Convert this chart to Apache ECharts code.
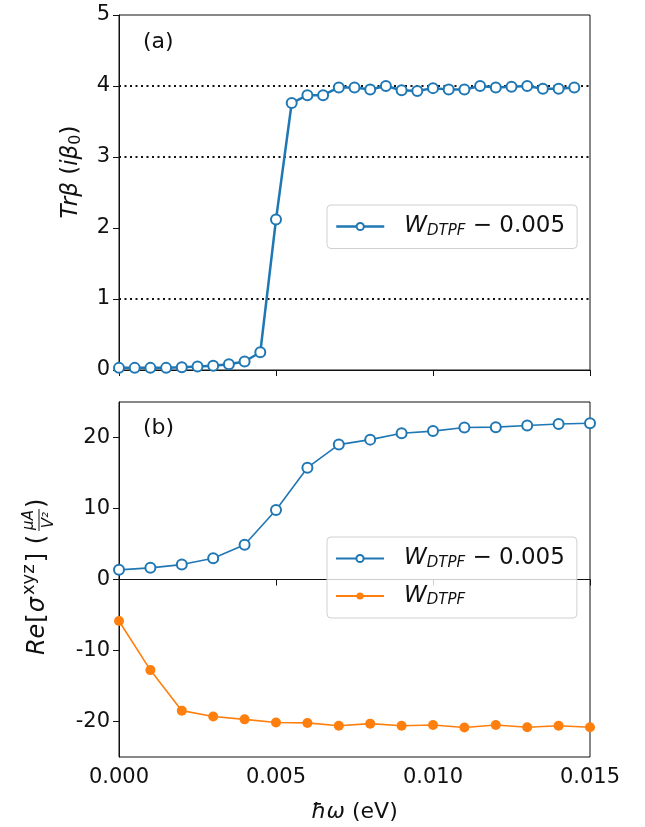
<!DOCTYPE html>
<html>
<head>
<meta charset="utf-8">
<script src="https://cdn.jsdelivr.net/npm/echarts@6/dist/echarts.min.js"></script>
<style>html,body{margin:0;padding:0;background:#fff}#c{width:645px;height:827px}</style>
</head>
<body>
<div id="c"></div>
<script>
// ---- data ----
const xTop = [0, 0.0005, 0.001, 0.0015, 0.002, 0.0025, 0.003, 0.0035, 0.004, 0.0045,
  0.005, 0.0055, 0.006, 0.0065, 0.007, 0.0075, 0.008, 0.0085, 0.009, 0.0095,
  0.010, 0.0105, 0.011, 0.0115, 0.012, 0.0125, 0.013, 0.0135, 0.014, 0.0145];
const trBeta = [0.03, 0.03, 0.03, 0.03, 0.04, 0.05, 0.06, 0.08, 0.12, 0.25,
  2.12, 3.76, 3.87, 3.87, 3.98, 3.98, 3.95, 4.00, 3.94, 3.93,
  3.97, 3.95, 3.95, 4.00, 3.98, 3.99, 4.00, 3.96, 3.96, 3.98];
const refLines = [1, 3, 4];

const xBottom = [0, 0.001, 0.002, 0.003, 0.004, 0.005, 0.006, 0.007, 0.008,
  0.009, 0.010, 0.011, 0.012, 0.013, 0.014, 0.015];
const sigmaShifted = [1.36, 1.64, 2.1, 3.0, 4.9, 9.8, 15.75, 19.0, 19.7,
  20.6, 20.9, 21.4, 21.46, 21.7, 21.9, 22.0];
const sigmaPlain = [-5.85, -12.76, -18.47, -19.3, -19.7, -20.15, -20.2, -20.6, -20.3,
  -20.6, -20.5, -20.85, -20.5, -20.8, -20.6, -20.8];

const xTicks = [0, 0.005, 0.010, 0.015];
const yTopTicks = [0, 1, 2, 3, 4, 5];
const yBottomTicks = [-20, -10, 0, 10, 20];

// ---- chart ----
const FONT = 'DejaVu Sans';
const BLUE = '#1f77b4', ORANGE = '#ff7f0e';
const chart = echarts.init(document.getElementById('c'), null, {renderer: 'canvas'});

const legendRich = {
  w: {fontFamily: FONT, fontStyle: 'italic', fontSize: 23, color: '#111'},
  s: {fontFamily: FONT, fontStyle: 'italic', fontSize: 15, color: '#111', padding: [9, 0, 0, 0]},
  n: {fontFamily: FONT, fontSize: 23, color: '#111'}
};
const legendNames = {
  topBlue: '{w|W}{s|DTPF}{n| − 0.005}',
  botBlue: '{w|W}{s|DTPF}{n| − 0.005}',
  botOrange: '{w|W}{s|DTPF}'
};

function pairs(xs, ys) { return xs.map((x, i) => [x, ys[i]]); }

const axisCommon = {
  axisLine: {show: true, lineStyle: {color: '#111', width: 1}},
  axisTick: {show: true, inside: false, length: 6, lineStyle: {color: '#111', width: 1}},
  splitLine: {show: false},
  axisLabel: {fontFamily: FONT, fontSize: 21, color: '#111', margin: 9}
};

const legendCommon = {
  orient: 'vertical',
  padding: [10, 12, 10, 8],
  itemWidth: 48, itemHeight: 9,
  borderColor: '#d0d0d0', borderWidth: 1, borderRadius: 4,
  backgroundColor: 'rgba(255,255,255,0.8)',
  formatter: n => legendNames[n],
  textStyle: {padding: [0, 0, 0, 15], rich: legendRich},
  selectedMode: false
};

const option = {
  animation: false,
  backgroundColor: '#fff',
  grid: [
    {left: 119, top: 15, width: 471, height: 355, show: true, borderColor: '#111', borderWidth: 1, backgroundColor: 'transparent'},
    {left: 119, top: 402, width: 471, height: 355, show: true, borderColor: '#111', borderWidth: 1, backgroundColor: 'transparent'}
  ],
  xAxis: [
    Object.assign({}, axisCommon, {
      type: 'value', gridIndex: 0, min: 0, max: 0.015,
      axisTick: Object.assign({}, axisCommon.axisTick, {customValues: xTicks}),
      axisLabel: {show: false}
    }),
    Object.assign({}, axisCommon, {
      type: 'value', gridIndex: 1, min: 0, max: 0.015,
      axisTick: Object.assign({}, axisCommon.axisTick, {customValues: xTicks}),
      axisLabel: Object.assign({}, axisCommon.axisLabel, {customValues: xTicks, formatter: v => v.toFixed(3), margin: 10}),
      name: '{i|ħω}{n| (eV)}',
      nameLocation: 'middle',
      nameGap: 44,
      nameTextStyle: {
        rich: {
          i: {fontFamily: FONT, fontStyle: 'italic', fontSize: 22, color: '#111'},
          n: {fontFamily: FONT, fontSize: 22, color: '#111'}
        }
      }
    })
  ],
  yAxis: [
    Object.assign({}, axisCommon, {
      type: 'value', gridIndex: 0, min: 0, max: 5,
      axisTick: Object.assign({}, axisCommon.axisTick, {customValues: yTopTicks}),
      axisLabel: Object.assign({}, axisCommon.axisLabel, {customValues: yTopTicks})
    }),
    Object.assign({}, axisCommon, {
      type: 'value', gridIndex: 1, min: -25, max: 25,
      axisTick: Object.assign({}, axisCommon.axisTick, {customValues: yBottomTicks}),
      axisLabel: Object.assign({}, axisCommon.axisLabel, {customValues: yBottomTicks})
    })
  ],
  legend: [
    Object.assign({}, legendCommon, {data: ['topBlue'], left: 327, top: 205, lineStyle: {width: 2.5}}),
    Object.assign({}, legendCommon, {data: ['botBlue', 'botOrange'], left: 327, top: 537, itemGap: 14})
  ],
  series: [
    {
      name: 'topBlue', type: 'line', xAxisIndex: 0, yAxisIndex: 0,
      data: pairs(xTop, trBeta),
      symbol: 'emptyCircle', symbolSize: 10,
      lineStyle: {color: BLUE, width: 2.5},
      itemStyle: {color: BLUE, borderColor: BLUE, borderWidth: 1.5},
      z: 3,
      markLine: {
        silent: true, symbol: ['none', 'none'], label: {show: false},
        lineStyle: {color: '#111', type: [2, 3.5], width: 2},
        data: refLines.map(v => ({yAxis: v})),
        z: 1
      }
    },
    {
      name: 'botBlue', type: 'line', xAxisIndex: 1, yAxisIndex: 1,
      data: pairs(xBottom, sigmaShifted),
      symbol: 'emptyCircle', symbolSize: 10,
      lineStyle: {color: BLUE, width: 1.6},
      itemStyle: {color: BLUE, borderColor: BLUE, borderWidth: 1.5}
    },
    {
      name: 'botOrange', type: 'line', xAxisIndex: 1, yAxisIndex: 1,
      data: pairs(xBottom, sigmaPlain),
      symbol: 'circle', symbolSize: 10,
      lineStyle: {color: ORANGE, width: 1.6},
      itemStyle: {color: ORANGE}
    }
  ],
  graphic: [
    {type: 'text', left: 143, top: 31, style: {text: '(a)', fontFamily: FONT, fontSize: 22, fill: '#111'}},
    {type: 'text', left: 143, top: 417, style: {text: '(b)', fontFamily: FONT, fontSize: 22, fill: '#111'}},
    {
      type: 'group', x: 71, y: 172, rotation: Math.PI / 2,
      children: [{
        type: 'text', x: 0, y: 0,
        style: {
          text: '{i|Trβ}{n| (}{i|iβ}{sub|0}{n|)}',
          align: 'center', verticalAlign: 'middle',
          rich: {
            i: {fontFamily: FONT, fontStyle: 'italic', fontSize: 23, fill: '#111'},
            n: {fontFamily: FONT, fontSize: 23, fill: '#111'},
            sub: {fontFamily: FONT, fontSize: 16, fill: '#111', padding: [10, 0, 0, 0]}
          }
        }
      }]
    },
    {
      type: 'group', x: 38, y: 581, rotation: Math.PI / 2,
      children: [
        {
          type: 'text', x: 47, y: 0,
          style: {
            text: '{i|Re}{n|[}{i|σ}{sup|xyz}{n|]}{n| (}',
            align: 'right', verticalAlign: 'middle',
            rich: {
              i: {fontFamily: FONT, fontStyle: 'italic', fontSize: 24, fill: '#111', padding: [0, 1, 0, 0]},
              n: {fontFamily: FONT, fontSize: 24, fill: '#111', padding: [0, 1, 0, 0]},
              sup: {fontFamily: FONT, fontSize: 18, fill: '#111', padding: [0, 2, 18, 1]}
            }
          }
        },
        {type: 'text', x: 61, y: -9, style: {text: 'μA', align: 'center', verticalAlign: 'middle', fontFamily: FONT, fontStyle: 'italic', fontSize: 15, fill: '#111'}},
        {type: 'line', shape: {x1: 50, y1: 1, x2: 72, y2: 1}, style: {stroke: '#111', lineWidth: 1}},
        {type: 'text', x: 61, y: 11, style: {text: 'V²', align: 'center', verticalAlign: 'middle', fontFamily: FONT, fontStyle: 'italic', fontSize: 15, fill: '#111'}},
        {type: 'text', x: 73, y: 0, style: {text: ')', align: 'left', verticalAlign: 'middle', fontFamily: FONT, fontSize: 24, fill: '#111'}}
      ]
    }
  ]
};
chart.setOption(option);
</script>
</body>
</html>
